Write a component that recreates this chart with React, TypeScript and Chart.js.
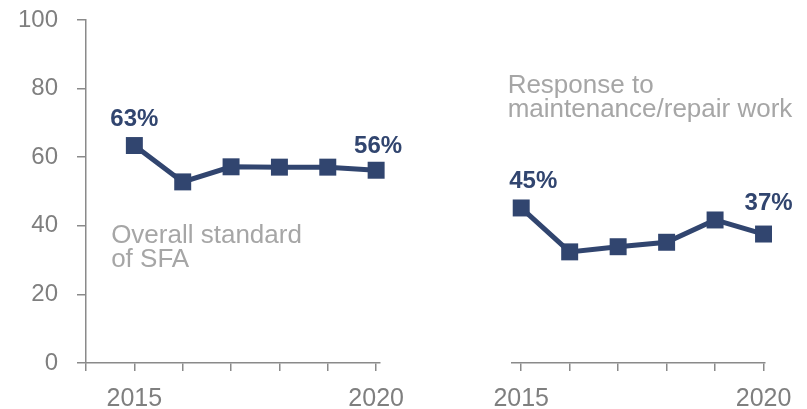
import React, { useEffect, useRef } from "react";
import { Chart, registerables } from "chart.js";

Chart.register(...registerables);

// ---- data ----
const years = [2015, 2016, 2017, 2018, 2019, 2020];
const sfaValues = [63.4, 52.8, 57.2, 57.1, 57.1, 56.2];
const repairValues = [45.2, 32.4, 33.9, 35.2, 41.7, 37.6];
const yTickValues = [0, 20, 40, 60, 80, 100];
const xTickLabels: Record<number, string> = { 2015: "2015", 2020: "2020" };
const sfaNote = ["Overall standard", "of SFA"];
const repairNote = ["Response to", "maintenance/repair work"];
const sfaPointLabels = [
  { index: 0, text: "63%" },
  { index: 5, text: "56%" },
];
const repairPointLabels = [
  { index: 0, text: "45%" },
  { index: 5, text: "37%" },
];

// ---- styles ----
const NAVY = "#31456f";
const AXIS = "#8a8a8a";
const TICK_TEXT = "#7f7f7f";
const NOTE_TEXT = "#a6a6a6";
const FONT = '"Liberation Sans", Arial, Helvetica, sans-serif';

type PL = { index: number; text: string };

function makeTextPlugin(
  labels: PL[],
  offsets: { dx: number; dy: number }[],
  note: string[],
  noteX: number,
  noteY: number
) {
  return {
    id: "texts",
    afterDatasetsDraw(chart: any) {
      const ctx = chart.ctx as CanvasRenderingContext2D;
      const meta = chart.getDatasetMeta(0);
      ctx.save();
      ctx.font = `bold 24px ${FONT}`;
      ctx.fillStyle = NAVY;
      ctx.textAlign = "center";
      ctx.textBaseline = "alphabetic";
      labels.forEach((l, k) => {
        const p = meta.data[l.index];
        ctx.fillText(l.text, p.x + offsets[k].dx, p.y + offsets[k].dy);
      });
      ctx.font = `26px ${FONT}`;
      ctx.fillStyle = NOTE_TEXT;
      ctx.textAlign = "left";
      const x0 = chart.scales.x.getPixelForValue(noteX);
      const y0 = chart.scales.y.getPixelForValue(noteY);
      note.forEach((t, k) => ctx.fillText(t, x0, y0 + k * 24));
      ctx.restore();
    },
  };
}

function buildChart(
  canvas: HTMLCanvasElement,
  values: number[],
  opts: {
    showY: boolean;
    xMin: number;
    xMax: number;
    xTicks: number[];
    padding: { top: number; right: number; left: number; bottom: number };
    plugin: any;
  }
) {
  const gridCommon = {
    drawOnChartArea: false,
    drawTicks: true,
    color: AXIS,
    lineWidth: 1.5,
  };
  const yScale: any = {
    display: opts.showY,
    min: 0,
    max: 100,
    afterBuildTicks: (s: any) => {
      s.ticks = yTickValues.map((v) => ({ value: v }));
    },
    ticks: {
      padding: 19,
      color: TICK_TEXT,
      font: { family: FONT, size: 24 },
    },
    grid: { ...gridCommon, tickLength: 9 },
    border: { color: AXIS, width: 1.5 },
  };
  if (opts.showY) {
    yScale.afterFit = (s: any) => {
      s.width = 86;
      s.paddingTop = 0;
      s.paddingBottom = 0;
    };
  }
  return new Chart(canvas, {
    type: "line",
    data: {
      datasets: [
        {
          data: years.map((y, i) => ({ x: y, y: values[i] })),
          borderColor: NAVY,
          backgroundColor: NAVY,
          borderWidth: 5,
          pointStyle: "rect",
          pointRadius: 12,
          pointBorderWidth: 0,
          pointBackgroundColor: NAVY,
          tension: 0,
          clip: false,
        } as any,
      ],
    },
    options: {
      animation: false,
      responsive: false,
      events: [],
      layout: { padding: opts.padding },
      plugins: { legend: { display: false }, tooltip: { enabled: false } },
      scales: {
        x: {
          type: "linear",
          min: opts.xMin,
          max: opts.xMax,
          afterBuildTicks: (s: any) => {
            s.ticks = opts.xTicks.map((v) => ({ value: v }));
          },
          afterFit: (s: any) => {
            s.height = 46;
          },
          ticks: {
            autoSkip: false,
            maxRotation: 0,
            padding: 13,
            color: TICK_TEXT,
            font: { family: FONT, size: 25 },
            callback: (v: any) => xTickLabels[Number(v)] ?? "",
          },
          grid: { ...gridCommon, tickLength: 8 },
          border: { color: AXIS, width: 1.5 },
        },
        y: yScale,
      },
    } as any,
    plugins: [opts.plugin],
  });
}

export default function App() {
  const leftRef = useRef<HTMLCanvasElement>(null);
  const rightRef = useRef<HTMLCanvasElement>(null);

  useEffect(() => {
    const left = buildChart(leftRef.current!, sfaValues, {
      showY: true,
      xMin: 2014,
      xMax: 2020.08,
      xTicks: [2014, ...years],
      padding: { top: 20, right: 40, left: 0, bottom: 0 },
      plugin: makeTextPlugin(
        sfaPointLabels,
        [
          { dx: 0, dy: -20 },
          { dx: 2, dy: -17 },
        ],
        sfaNote,
        2014.52,
        35
      ),
    });
    const right = buildChart(rightRef.current!, repairValues, {
      showY: false,
      xMin: 2014.81,
      xMax: 2020.03,
      xTicks: years,
      padding: { top: 20, right: 42, left: 92, bottom: 0 },
      plugin: makeTextPlugin(
        repairPointLabels,
        [
          { dx: 12, dy: -20 },
          { dx: 5, dy: -24 },
        ],
        repairNote,
        2014.72,
        78.7
      ),
    });
    return () => {
      left.destroy();
      right.destroy();
    };
  }, []);

  return (
    <div
      style={{
        position: "fixed",
        left: 0,
        top: 0,
        width: 807,
        height: 409,
        background: "#ffffff",
      }}
    >
      <canvas
        ref={leftRef}
        width={420}
        height={409}
        style={{ position: "absolute", left: 0, top: 0, width: 420, height: 409 }}
      />
      <canvas
        ref={rightRef}
        width={387}
        height={409}
        style={{ position: "absolute", left: 420, top: 0, width: 387, height: 409 }}
      />
    </div>
  );
}
